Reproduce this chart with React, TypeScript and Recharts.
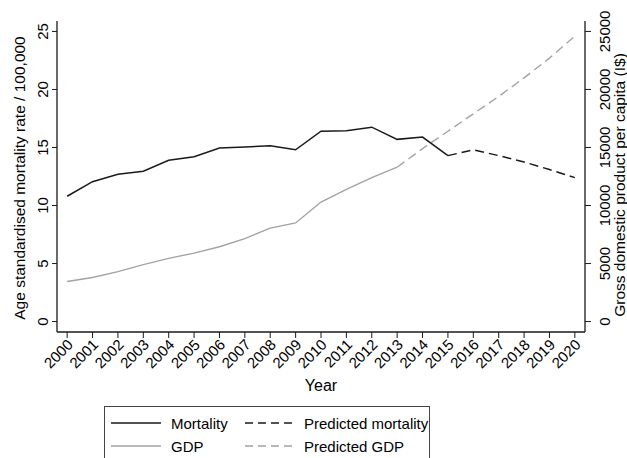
import { LineChart, Line, XAxis, YAxis } from "recharts";

const years = [
  2000, 2001, 2002, 2003, 2004, 2005, 2006, 2007, 2008, 2009, 2010,
  2011, 2012, 2013, 2014, 2015, 2016, 2017, 2018, 2019, 2020,
];
const mortality = [
  10.8, 12.05, 12.7, 12.95, 13.9, 14.2, 14.95, 15.05, 15.15, 14.8, 16.4,
  16.45, 16.75, 15.7, 15.9, 14.3, null, null, null, null, null,
];
const predictedMortality = [
  null, null, null, null, null, null, null, null, null, null, null,
  null, null, null, null, 14.3, 14.8, 14.3, 13.75, 13.1, 12.4,
];
const gdp = [
  3450, 3800, 4300, 4900, 5450, 5900, 6450, 7150, 8050, 8500, 10300,
  11400, 12400, 13300, null, null, null, null, null, null, null,
];
const predictedGdp = [
  null, null, null, null, null, null, null, null, null, null, null,
  null, null, 13300, 14900, 16400, 17900, 19400, 21000, 22700, 24600,
];

const leftTicks = [0, 5, 10, 15, 20, 25];
const rightTicks = [0, 5000, 10000, 15000, 20000, 25000];

const data = years.map((year, i) => ({
  year,
  mortality: mortality[i],
  predictedMortality: predictedMortality[i],
  gdp: gdp[i],
  predictedGdp: predictedGdp[i],
}));

const FONT = "'Liberation Sans', Arial, Helvetica, sans-serif";
const DARK = "#1a1a1a";
const GREY = "#a3a3a3";

const XTick = ({ x, y, payload }: any) => (
  <text
    x={x + 3}
    y={y + 2}
    transform={`rotate(-45 ${x + 3} ${y + 2})`}
    textAnchor="end"
    dy="0.35em"
    fontSize={15}
    fontFamily={FONT}
    fill="#000"
  >
    {payload.value}
  </text>
);

const LeftTick = ({ x, y, payload }: any) => (
  <text
    x={x + 2}
    y={y}
    transform={`rotate(-90 ${x + 2} ${y})`}
    textAnchor="middle"
    fontSize={15}
    fontFamily={FONT}
    fill="#000"
  >
    {payload.value}
  </text>
);

const RightTick = ({ x, y, payload }: any) => (
  <text
    x={x + 13}
    y={y}
    transform={`rotate(-90 ${x + 13} ${y})`}
    textAnchor="middle"
    fontSize={15}
    fontFamily={FONT}
    fill="#000"
  >
    {payload.value}
  </text>
);

// vertical axis title, drawn rotated
const VTitle = ({ cx, cy, text }: { cx: number; cy: number; text: string }) => (
  <text
    x={cx}
    y={cy}
    transform={`rotate(-90 ${cx} ${cy})`}
    textAnchor="middle"
    fontSize={15.5}
    fontFamily={FONT}
    fill="#000"
  >
    {text}
  </text>
);

const legendItems = [
  { label: "Mortality", color: DARK, dash: undefined, col: 0, row: 0 },
  { label: "Predicted mortality", color: DARK, dash: "8 5", col: 1, row: 0 },
  { label: "GDP", color: GREY, dash: undefined, col: 0, row: 1 },
  { label: "Predicted GDP", color: GREY, dash: "8 5", col: 1, row: 1 },
];

export default function App() {
  return (
    <div style={{ position: "absolute", left: 0, top: 0, width: 627, height: 458, background: "#fff", overflow: "hidden" }}>
      <LineChart
        width={627}
        height={458}
        data={data}
        margin={{ top: 21, right: 0, bottom: 0, left: 0 }}
      >
        <XAxis
          xAxisId="top"
          orientation="top"
          dataKey="year"
          type="number"
          domain={[1999.6, 2020.4]}
          height={0}
          tick={false}
          tickLine={false}
          axisLine={{ stroke: DARK, strokeWidth: 1.3 }}
        />
        <XAxis
          dataKey="year"
          type="number"
          domain={[1999.6, 2020.4]}
          ticks={years}
          interval={0}
          height={126}
          tick={<XTick />}
          tickSize={6}
          tickMargin={2}
          axisLine={{ stroke: DARK, strokeWidth: 1.3 }}
          tickLine={{ stroke: DARK }}
          label={({ viewBox }: any) => (
            <text
              x={viewBox.x + viewBox.width / 2}
              y={viewBox.y + 59}
              textAnchor="middle"
              fontSize={16}
              fontFamily={FONT}
              fill="#000"
            >
              Year
            </text>
          )}
        />
        <YAxis
          yAxisId="left"
          domain={[-0.9, 25.9]}
          ticks={leftTicks}
          width={57}
          tick={<LeftTick />}
          tickSize={5}
          tickMargin={6}
          axisLine={{ stroke: DARK, strokeWidth: 1.3 }}
          tickLine={{ stroke: DARK }}
          allowDataOverflow
          label={() => (
            <VTitle cx={25} cy={178} text="Age standardised mortality rate / 100,000" />
          )}
        />
        <YAxis
          yAxisId="right"
          orientation="right"
          domain={[-900, 25900]}
          ticks={rightTicks}
          width={42}
          tick={<RightTick />}
          tickSize={6}
          tickMargin={6}
          axisLine={{ stroke: DARK, strokeWidth: 1.3 }}
          tickLine={{ stroke: DARK }}
          allowDataOverflow
          label={() => (
            <VTitle cx={625} cy={185} text="Gross domestic product per capita (I$)" />
          )}
        />
        <Line
          yAxisId="right"
          dataKey="gdp"
          stroke={GREY}
          strokeWidth={1.4}
          dot={false}
          isAnimationActive={false}
          type="linear"
        />
        <Line
          yAxisId="right"
          dataKey="predictedGdp"
          stroke={GREY}
          strokeWidth={1.4}
          strokeDasharray="9 5"
          dot={false}
          isAnimationActive={false}
          type="linear"
        />
        <Line
          yAxisId="left"
          dataKey="mortality"
          stroke={DARK}
          strokeWidth={1.5}
          dot={false}
          isAnimationActive={false}
          type="linear"
        />
        <Line
          yAxisId="left"
          dataKey="predictedMortality"
          stroke={DARK}
          strokeWidth={1.5}
          strokeDasharray="9 5"
          dot={false}
          isAnimationActive={false}
          type="linear"
        />
      </LineChart>
      <svg
        width={327}
        height={60}
        style={{ position: "absolute", left: 104, top: 406 }}
      >
        <rect x={0.5} y={0.5} width={325} height={70} fill="#fff" stroke="#444" strokeWidth={1} />
        {legendItems.map((item) => {
          const x0 = item.col === 0 ? 7 : 141;
          const tx = item.col === 0 ? 67 : 200;
          const y = item.row === 0 ? 17 : 40;
          return (
            <g key={item.label}>
              <line
                x1={x0}
                x2={x0 + 50}
                y1={y}
                y2={y}
                stroke={item.color}
                strokeWidth={1.5}
                strokeDasharray={item.dash}
              />
              <text x={tx} y={y + 5.5} fontSize={15} fontFamily={FONT} fill="#000">
                {item.label}
              </text>
            </g>
          );
        })}
      </svg>
    </div>
  );
}
